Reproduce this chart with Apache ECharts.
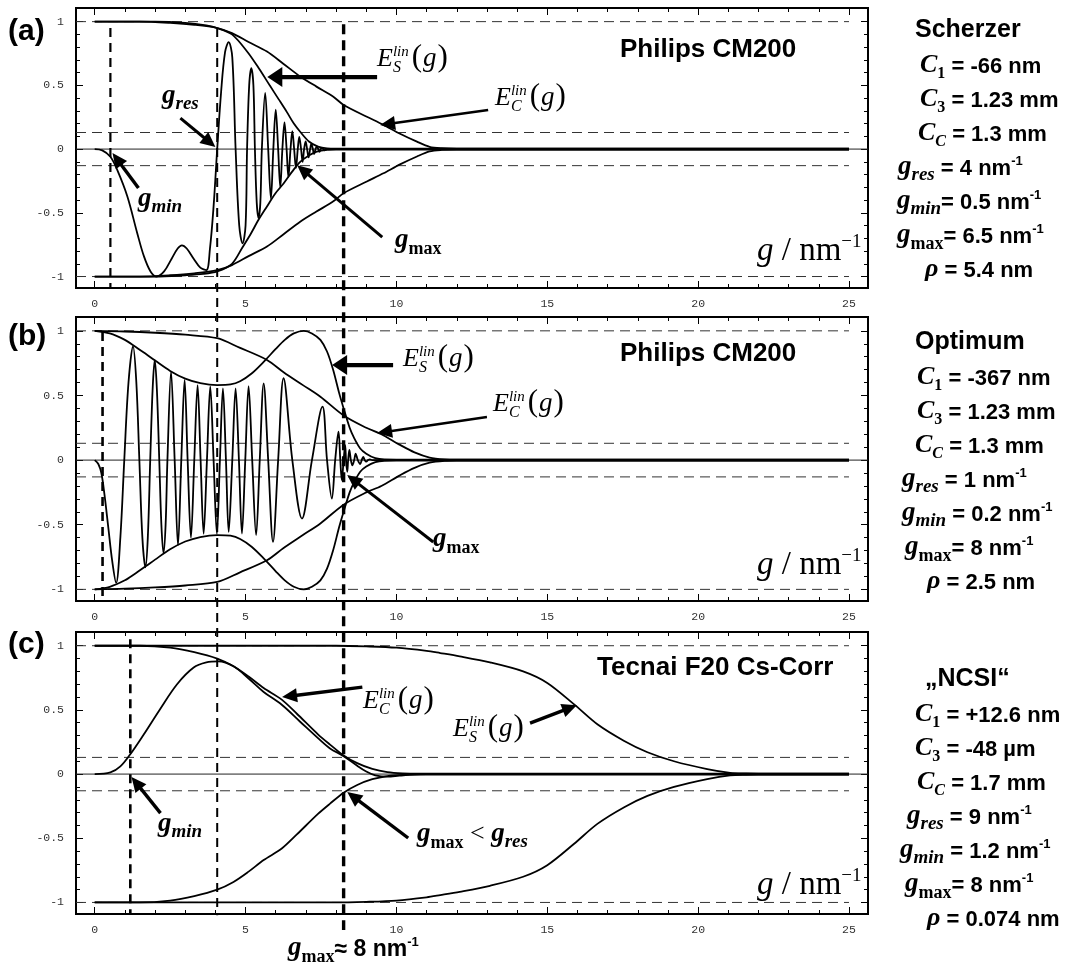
<!DOCTYPE html>
<html><head><meta charset="utf-8">
<script src="https://cdn.jsdelivr.net/npm/echarts@6/dist/echarts.min.js"></script>
<style>html,body{margin:0;padding:0;background:#fff}#c{width:1074px;height:965px}</style>
</head><body><div id="c"></div>
<script>
// ================= DATA =================
const xTickLabels = [0, 5, 10, 15, 20, 25];
const yTickLabels = [-1, -0.5, 0, 0.5, 1];
const dashLevels = [1, 0.13, -0.13, -1];

// Panel (a) Scherzer
const aCTF = [[0,0],[0.25,-0.01],[0.52,-0.06],[0.75,-0.165],[1.08,-0.37],[1.41,-0.66],[1.63,-0.84],[1.85,-0.96],[2.05,-1.0],[2.3,-0.96],[2.55,-0.86],[2.75,-0.78],[2.89,-0.755],[3.05,-0.78],[3.28,-0.86],[3.5,-0.93],[3.7,-0.95],[3.82,-0.78],[3.94,-0.45],[4.06,0],[4.19,0.45],[4.32,0.76],[4.44,0.84],[4.56,0.72],[4.67,0],[4.79,-0.6],[4.9,-0.74],[5.0,-0.6],[5.05,0],[5.12,0.5],[5.19,0.635],[5.26,0.5],[5.31,0],[5.37,-0.42],[5.43,-0.54],[5.49,-0.42],[5.54,0],[5.65,0.44],[5.75,0],[5.84,-0.39],[5.92,0],[6.0,0.31],[6.08,0],[6.15,-0.3],[6.22,0],[6.29,0.21],[6.36,0],[6.42,-0.22],[6.49,0],[6.55,0.14],[6.61,0],[6.67,-0.15],[6.73,0],[6.78,0.095],[6.84,0],[6.89,-0.1],[6.94,0],[6.99,0.06],[7.04,0],[7.09,-0.065],[7.14,0],[7.18,0.04],[7.23,0],[7.27,-0.04],[7.32,0],[7.36,0.022],[7.41,0],[7.45,-0.022],[7.49,0],[7.53,0.01],[7.58,0],[7.62,-0.01],[7.7,0],[25,0]];
const aEC = [[0,1],[1.5,1],[2.5,0.99],[3.3,0.975],[4.06,0.95],[4.55,0.91],[5.1,0.84],[5.71,0.765],[6.25,0.67],[6.81,0.57],[7.35,0.49],[7.91,0.41],[8.25,0.346],[9.02,0.254],[9.57,0.19],[10.12,0.12],[10.68,0.058],[11.1,0.018],[11.5,0.007],[12,0.004],[25,0.004]];
const aESup = [[0,1],[2,1],[3,0.99],[3.7,0.97],[4.06,0.95],[4.55,0.9],[5.07,0.76],[5.45,0.63],[5.8,0.5],[6.1,0.39],[6.37,0.29],[6.6,0.2],[6.81,0.136],[7.1,0.06],[7.4,0.02],[7.7,0.006],[8,0.004],[25,0.004]];
const aESlow = [[0,-1],[2,-1],[3,-0.99],[3.6,-0.98],[4.06,-0.96],[4.55,-0.9],[4.9,-0.77],[5.16,-0.67],[5.43,-0.555],[5.71,-0.45],[5.98,-0.35],[6.26,-0.27],[6.55,-0.175],[6.81,-0.1],[7.1,-0.05],[7.36,-0.02],[7.7,-0.006],[8,-0.004],[25,-0.004]];

// Panel (b) Optimum
const bCTF = [[0,0],[0.12,-0.03],[0.22,-0.1],[0.32,-0.26],[0.45,-0.52],[0.58,-0.78],[0.71,-0.95],[0.85,-0.6],[0.98,0],[1.12,0.6],[1.27,0.88],[1.38,0.6],[1.48,0],[1.58,-0.6],[1.68,-0.83],[1.76,-0.6],[1.84,0],[1.92,0.55],[1.99,0.775],[2.06,0.55],[2.14,0],[2.21,-0.5],[2.28,-0.72],[2.35,-0.5],[2.41,0],[2.53,0.685],[2.65,0],[2.76,-0.66],[2.87,0],[2.98,0.62],[3.08,0],[3.19,-0.6],[3.3,0],[3.41,0.58],[3.51,0],[3.61,-0.57],[3.72,0],[3.83,0.57],[3.94,0],[4.05,-0.57],[4.15,0],[4.25,0.555],[4.35,0],[4.44,-0.556],[4.56,0],[4.67,0.555],[4.78,0],[4.88,-0.568],[4.99,0],[5.1,0.573],[5.22,0],[5.35,-0.581],[5.47,0],[5.6,0.594],[5.75,0],[5.91,-0.633],[6.08,0],[6.26,0.633],[6.55,0],[6.87,-0.452],[7.2,0],[7.55,0.413],[7.7,0],[7.86,-0.297],[7.97,0],[8.08,0.22],[8.14,0],[8.19,-0.155],[8.25,0],[8.3,0.116],[8.33,0],[8.37,-0.09],[8.4,0],[8.44,0.078],[8.49,0],[8.54,-0.04],[8.6,0],[8.65,0.05],[8.72,0],[8.8,-0.03],[8.85,0],[8.9,0.025],[8.95,0],[9.0,-0.012],[9.06,0],[9.12,0.005],[9.2,0],[25,0]];
const bEC = [[0,1],[1,0.995],[2,0.985],[3,0.97],[4.06,0.943],[4.8,0.87],[5.71,0.775],[6.26,0.68],[6.9,0.58],[7.48,0.49],[8.25,0.345],[9,0.25],[9.5,0.2],[10.1,0.12],[10.6,0.06],[11.1,0.02],[11.6,0.006],[12,0.004],[25,0.004]];
const bES = [[0,1],[0.5,0.98],[1.0,0.93],[1.3,0.885],[1.7,0.82],[2.0,0.77],[2.5,0.69],[3.0,0.63],[3.5,0.595],[4.06,0.58],[4.5,0.585],[4.82,0.61],[5.2,0.67],[5.6,0.76],[6.0,0.86],[6.3,0.93],[6.6,0.98],[6.93,1.0],[7.2,0.98],[7.48,0.93],[7.7,0.84],[7.9,0.7],[8.1,0.52],[8.25,0.4],[8.45,0.25],[8.6,0.17],[8.8,0.09],[9.0,0.05],[9.3,0.015],[9.6,0.005],[10,0.004],[25,0.004]];

// Panel (c) NCSI
const cCTF = [[0,0],[0.52,0.013],[0.85,0.06],[1.18,0.155],[1.62,0.307],[2.15,0.5],[2.73,0.7],[3.28,0.83],[3.7,0.87],[4.1,0.878],[4.6,0.84],[5.1,0.745],[5.6,0.64],[6.2,0.54],[6.8,0.41],[7.4,0.28],[7.8,0.2],[8.25,0.14],[8.7,0.065],[9.0,0.02],[9.3,-0.01],[9.7,-0.02],[10.1,-0.012],[10.6,-0.003],[11,0],[25,0]];
const cEC = [[0,1],[1.5,1],[2.5,0.985],[3.3,0.95],[4.06,0.9],[4.6,0.84],[5.1,0.76],[5.6,0.67],[6.2,0.58],[6.7,0.47],[7.4,0.31],[7.8,0.23],[8.25,0.145],[8.7,0.085],[9.2,0.04],[9.7,0.015],[10.2,0.006],[10.8,0.004],[25,0.004]];
const cES = [[0,1],[8,1],[9,0.995],[10,0.985],[11,0.96],[11.45,0.943],[12.1,0.917],[13.1,0.87],[14.2,0.8],[15,0.71],[15.89,0.543],[16.66,0.388],[17.55,0.258],[18.32,0.17],[19.2,0.1],[20.3,0.039],[21.06,0.01],[21.6,0.005],[22,0.004],[25,0.004]];

// marked spatial frequencies (nm^-1)
const gMinLines = [0.52, 0.26, 1.18];
const gResLine = 4.06;
const gMaxLine = 8.25;

// ================= LAYOUT =================
const X_MIN = -0.62, X_MAX = 25.63, Y_MIN = -1.09, Y_MAX = 1.107, X_END = 25;
const LEFT = 76, WIDTH = 792;
const grids = [{top: 8, height: 280}, {top: 317, height: 284}, {top: 632, height: 282}];
const SANS = 'Liberation Sans', SERIF = 'Liberation Serif', MONO = 'Liberation Mono';
const CURVE_W = 1.8;

const xMinor = []; for (let i = 0; i <= 25; i++) if (i % 5) xMinor.push(i);
const yMinor = []; for (let i = -10; i <= 10; i++) if (i % 5) yMinor.push(i / 10);

const neg = arr => arr.map(p => [p[0], -p[1]]);

const chart = echarts.init(document.getElementById('c'), null, {renderer: 'canvas'});

const xAxes = [], yAxes = [], series = [];
const labelStyle = {fontFamily: MONO, fontSize: 11.5, color: '#333', formatter: v => String(v)};
function xAx(gi, pos, ticks, len, labels) {
  return {type: 'value', gridIndex: gi, min: X_MIN, max: X_MAX, position: pos,
    axisLine: {show: false, onZero: false}, splitLine: {show: false},
    axisTick: {show: true, inside: true, length: len, customValues: ticks, lineStyle: {color: '#000', width: 1}},
    axisLabel: labels ? Object.assign({show: true, customValues: labels, margin: 10}, labelStyle) : {show: false}};
}
function yAx(gi, pos, ticks, len, labels) {
  return {type: 'value', gridIndex: gi, min: Y_MIN, max: Y_MAX, position: pos,
    axisLine: {show: false, onZero: false}, splitLine: {show: false},
    axisTick: {show: true, inside: true, length: len, customValues: ticks, lineStyle: {color: '#000', width: 1}},
    axisLabel: labels ? Object.assign({show: true, customValues: labels, margin: 12}, labelStyle) : {show: false}};
}
function line(gi, data, opts) {
  return Object.assign({type: 'line', xAxisIndex: gi * 4, yAxisIndex: gi * 4, data: data, symbol: 'none', showSymbol: false,
    silent: true, animation: false, smooth: 0.3, lineStyle: {color: '#000', width: CURVE_W}, z: 3}, opts || {});
}

const panelCurves = [
  [aCTF, aEC, neg(aEC), aESup, aESlow],
  [bCTF, bEC, neg(bEC), bES, neg(bES)],
  [cCTF, cEC, neg(cEC), cES, neg(cES)]
];

grids.forEach((g, gi) => {
  xAxes.push(xAx(gi, 'bottom', xTickLabels, 7, xTickLabels));
  xAxes.push(xAx(gi, 'bottom', xMinor, 4, null));
  xAxes.push(xAx(gi, 'top', xTickLabels, 7, null));
  xAxes.push(xAx(gi, 'top', xMinor, 4, null));
  yAxes.push(yAx(gi, 'left', yTickLabels, 7, yTickLabels));
  yAxes.push(yAx(gi, 'left', yMinor, 4, null));
  yAxes.push(yAx(gi, 'right', yTickLabels, 7, null));
  yAxes.push(yAx(gi, 'right', yMinor, 4, null));
  // zero axis line
  series.push(line(gi, [[X_MIN, 0], [X_MAX, 0]], {smooth: false, lineStyle: {color: '#222', width: 1}, z: 2}));
  dashLevels.forEach(l => series.push(line(gi, [[X_MIN, l], [X_END, l]], {smooth: false, lineStyle: {color: '#333', width: 1, type: [10, 6]}, z: 2})));
  panelCurves[gi].forEach((d, k) => series.push(line(gi, d, {smooth: k === 0 ? 0.35 : 0.3})));
});

chart.setOption({
  animation: false, backgroundColor: '#fff',
  grid: grids.map(g => ({left: LEFT, width: WIDTH, top: g.top, height: g.height, show: true, borderColor: '#000', borderWidth: 2, backgroundColor: 'transparent'})),
  xAxis: xAxes, yAxis: yAxes, series: series
});

// ================= ANNOTATIONS =================
const toPx = (gi, x, y) => chart.convertToPixel({xAxisIndex: gi * 4, yAxisIndex: gi * 4}, [x, y]);
const mctx = document.createElement('canvas').getContext('2d');
function fontOf(r) { return (r.it ? 'italic ' : 'normal ') + (r.b ? 'bold ' : 'normal ') + r.size + 'px "' + r.fam + '"'; }
function measure(r) { mctx.font = fontOf(r); return mctx.measureText(r.t).width; }
function textEl(r, x, baseY) {
  return {type: 'text', silent: true, z: 100, style: {text: r.t, x: x, y: baseY + (r.dy || 0) - 0.34 * r.size, fill: '#000',
    fontSize: r.size, fontFamily: r.fam, fontStyle: r.it ? 'italic' : 'normal', fontWeight: r.b ? 'bold' : 'normal', align: 'left', verticalAlign: 'middle'}};
}
function runsEls(runs, left, baseY) {
  const out = []; let x = left; let st = null;
  for (const r of runs) {
    x += r.gap || 0;
    const w = measure(r);
    if (st) { out.push(textEl(r, st.x, baseY)); x = st.x + Math.max(st.w, w); st = null; continue; }
    out.push(textEl(r, x, baseY));
    if (r.stack) st = {x: x, w: w}; else x += w;
  }
  return out;
}
const S = (t, size, o) => Object.assign({t: t, size: size, fam: SANS, b: 1}, o || {});
const R = (t, size, o) => Object.assign({t: t, size: size, fam: SERIF}, o || {});
const Elin = sub => [R('E', 26, {it: 1}), R('lin', 15, {it: 1, dy: -11, stack: 1}), R(sub, 16, {it: 1, dy: 5}), R('(', 31, {gap: 3}), R('g', 27, {it: 1, gap: 1}), R(')', 31, {gap: 1})];
const gSym = sub => [R('g', 27, {it: 1, b: 1}), R(sub, sub === 'max' ? 18 : 19, {it: sub !== 'max', b: 1, dy: 6})];
const gUnit = [R('g', 33, {it: 1}), R(' / nm', 33), R('\u22121', 19, {dy: -15})];

// text annotations: [left px, baseline px, runs]
const texts = [
  [8, 42, [S('(a)', 30)]], [8, 347, [S('(b)', 30)]], [8, 655, [S('(c)', 30)]],
  [620, 59, [S('Philips CM200', 26)]], [620, 363, [S('Philips CM200', 26)]], [597, 677, [S('Tecnai F20 Cs-Corr', 26)]],
  [377, 68, Elin('S')], [495, 107, Elin('C')],
  [162, 105, gSym('res')], [138, 208, gSym('min')], [395, 249, gSym('max')],
  [757, 263, gUnit], [757, 577, gUnit], [757, 897, gUnit],
  [403, 368, Elin('S')], [493, 413, Elin('C')], [433, 548, gSym('max')],
  [363, 710, Elin('C')], [453, 738, Elin('S')], [158, 833, gSym('min')],
  [417, 843, gSym('max').concat([R(' < ', 26)], gSym('res'))],
  [288, 957, gSym('max').concat([S('\u2248 8 nm', 23), S('-1', 13, {dy: -10})])]
];

// right-hand parameter columns
const C = sub => [R('C', 26, {it: 1, b: 1}), R(sub, 16, {b: 1, it: sub === 'C', dy: 5})];
const sup = S('-1', 13, {dy: -10});
const rho = [R('\u03c1', 26, {it: 1, b: 1})];
const cols = [
  {top: 31, rows: [
    [915, [S('Scherzer', 25)]],
    [920, C('1').concat([S(' = -66 nm', 22)])],
    [920, C('3').concat([S(' = 1.23 mm', 22)])],
    [918, C('C').concat([S(' = 1.3 mm', 22)])],
    [898, gSym('res').concat([S(' = 4 nm', 22), sup])],
    [897, gSym('min').concat([S('= 0.5 nm', 22), sup])],
    [897, gSym('max').concat([S('= 6.5 nm', 22), sup])],
    [925, rho.concat([S(' = 5.4 nm', 22)])]]},
  {top: 343, rows: [
    [915, [S('Optimum', 25)]],
    [917, C('1').concat([S(' = -367 nm', 22)])],
    [917, C('3').concat([S(' = 1.23 mm', 22)])],
    [915, C('C').concat([S(' = 1.3 mm', 22)])],
    [902, gSym('res').concat([S(' = 1 nm', 22), sup])],
    [902, gSym('min').concat([S(' = 0.2 nm', 22), sup])],
    [905, gSym('max').concat([S('= 8 nm', 22), sup])],
    [927, rho.concat([S(' = 2.5 nm', 22)])]]},
  {top: 680, rows: [
    [925, [S('\u201eNCSI\u201c', 25)]],
    [915, C('1').concat([S(' = +12.6 nm', 22)])],
    [915, C('3').concat([S(' = -48 \u00b5m', 22)])],
    [917, C('C').concat([S(' = 1.7 mm', 22)])],
    [907, gSym('res').concat([S(' = 9 nm', 22), sup])],
    [900, gSym('min').concat([S(' = 1.2 nm', 22), sup])],
    [905, gSym('max').concat([S('= 8 nm', 22), sup])],
    [927, rho.concat([S(' = 0.074 nm', 22)])]]}
];

// arrows in data coordinates: [panel, start [x,y], tip [x,y], lineWidth]
const arrows = [
  [0, [9.36, 0.565], [5.72, 0.565], 4.2],
  [0, [13.04, 0.306], [9.46, 0.188], 2.6],
  [0, [2.84, 0.243], [4.0, 0.016], 3],
  [0, [1.45, -0.306], [0.59, -0.031], 3.4],
  [0, [9.53, -0.69], [6.71, -0.126], 3],
  [1, [9.89, 0.735], [7.87, 0.735], 4.2],
  [1, [13.0, 0.333], [9.36, 0.209], 2.6],
  [1, [11.22, -0.634], [8.37, -0.116], 3],
  [2, [8.87, 0.678], [6.21, 0.6], 3.4],
  [2, [14.43, 0.397], [15.98, 0.537], 3.4],
  [2, [2.18, -0.304], [1.22, -0.023], 3.4],
  [2, [10.39, -0.498], [8.37, -0.14], 3.4]
];

function arrowEls(p0, p1, lw, hl, hw) {
  const dx = p1[0] - p0[0], dy = p1[1] - p0[1], L = Math.hypot(dx, dy), ux = dx / L, uy = dy / L;
  const bx = p1[0] - ux * hl, by = p1[1] - uy * hl, nx = -uy, ny = ux;
  return [
    {type: 'line', silent: true, z: 90, shape: {x1: p0[0], y1: p0[1], x2: bx + ux * 2, y2: by + uy * 2}, style: {stroke: '#000', lineWidth: lw}},
    {type: 'polygon', silent: true, z: 90, shape: {points: [[p1[0], p1[1]], [bx + nx * hw / 2, by + ny * hw / 2], [bx - nx * hw / 2, by - ny * hw / 2]]}, style: {fill: '#000'}}
  ];
}
function vline(g0, y0, g1, y1, x, lw, dash) {
  const p0 = toPx(g0, x, y0), p1 = toPx(g1, x, y1);
  return {type: 'line', silent: true, z: 50, shape: {x1: p0[0], y1: p0[1], x2: p1[0], y2: p1[1]}, style: {stroke: '#000', lineWidth: lw, lineDash: dash}};
}

const els = [];
els.push(vline(0, 0.95, 0, Y_MIN, gMinLines[0], 2.2, [9, 6]));
els.push(vline(1, 0.99, 1, Y_MIN, gMinLines[1], 2.6, [9, 6]));
els.push(vline(2, 1.05, 2, Y_MIN, gMinLines[2], 2.6, [9, 6]));
els.push(vline(0, 0.95, 2, -1.1, gResLine, 2, [9, 6]));
els.push(vline(0, 0.98, 2, -1.215, gMaxLine, 3.4, [10, 6]));
arrows.forEach(a => {
  const p0 = toPx(a[0], a[1][0], a[1][1]), p1 = toPx(a[0], a[2][0], a[2][1]);
  els.push.apply(els, arrowEls(p0, p1, a[3], 15, a[3] > 4 ? 20 : 14));
});
texts.forEach(t => els.push.apply(els, runsEls(t[2], t[0], t[1])));
const ROW_STEP = 34;
cols.forEach(c => c.rows.forEach((row, i) => {
  const cy = c.top + (i === 0 ? 0 : 35 + (i - 1) * ROW_STEP);
  els.push.apply(els, runsEls(row[1], row[0], cy + 8));
}));
chart.setOption({graphic: {elements: els}});
</script>
</body></html>
